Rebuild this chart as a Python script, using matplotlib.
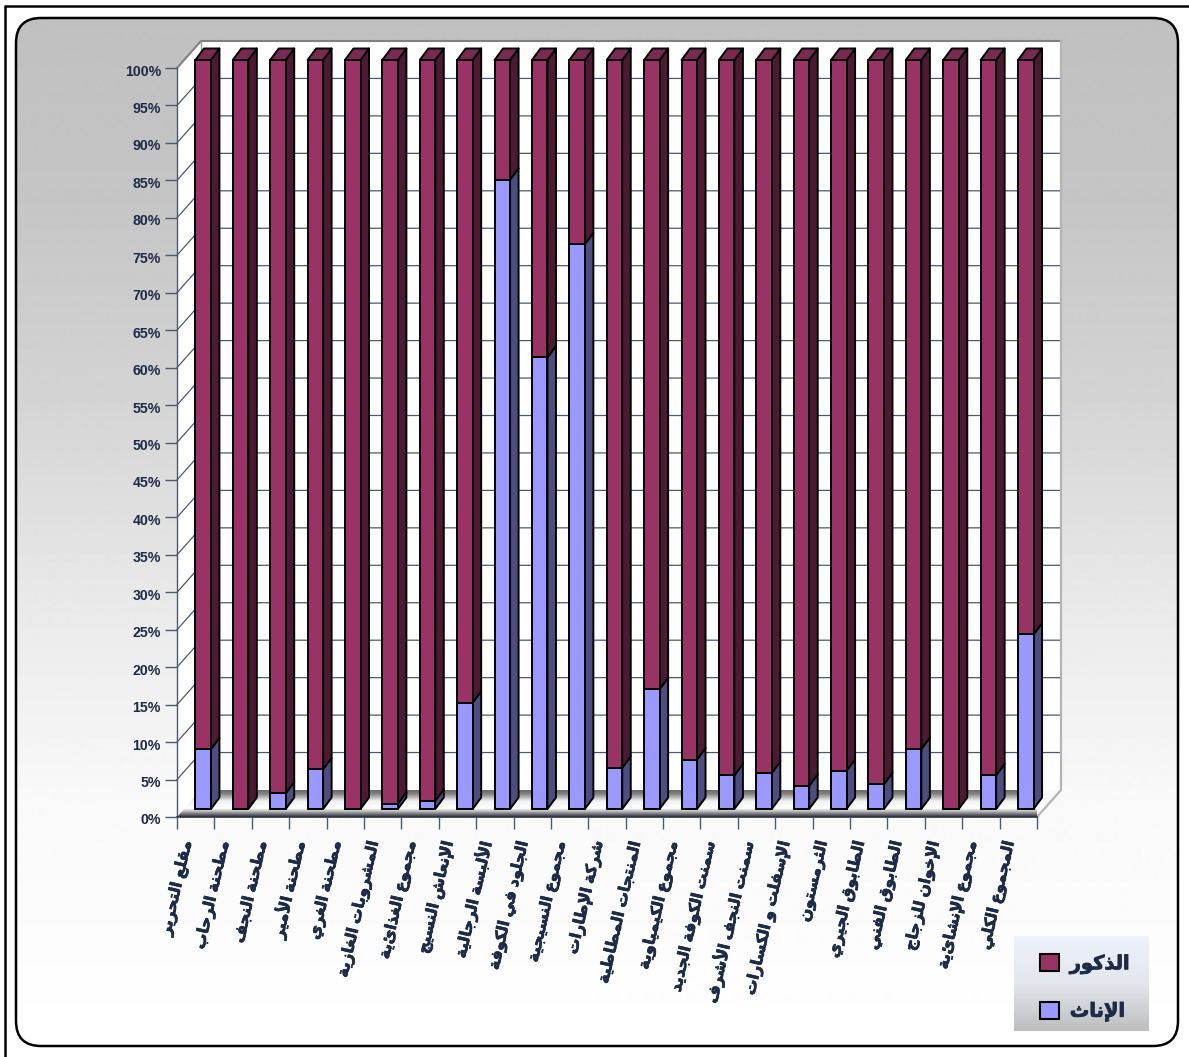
import numpy as np
import matplotlib
matplotlib.use('Agg')
import matplotlib.pyplot as plt
import matplotlib.patheffects as pe
from matplotlib.colors import LinearSegmentedColormap
from matplotlib.patches import FancyBboxPatch, Polygon, Rectangle
from matplotlib.transforms import ScaledTranslation

W, H = 1189, 1057

labels = ['مقلع التحرير', 'مطحنة الرحاب', 'مطحنة النجف', 'مطحنة الأمير', 'مطحنة الغري',
          'المشروبات الغازية', 'مجموع الغذائية', 'الإنعاش النسيج', 'الألبسة الرجالية',
          'الجلود في الكوفة', 'مجموع النسيجية', 'شركة الإطارات', 'المنتجات المطاطية',
          'مجموع الكيمياوية', 'سمنت الكوفة الجديد', 'سمنت النجف الأشرف', 'الإسفلت و الكسارات',
          'الثرمستون', 'الطابوق الجيري', 'الطابوق الفني', 'الإخوان للزجاج',
          'مجموع الإنشائية', 'المجموع الكلي']
female = [8.0, 0, 2.1, 5.3, 0, 0.7, 1.1, 14.2, 84.0, 60.3, 75.4, 5.5, 16.0,
          6.6, 4.5, 4.8, 3.1, 5.1, 3.3, 8.0, 0, 4.5, 23.3]
male = [100 - v for v in female]
pct_ticks = list(range(0, 101, 5))
name_male = 'الذكور'
name_female = 'الإناث'

MAROON, MAROON_SIDE, MAROON_TOP = '#993366', '#4D1A33', '#7A2952'
BLUE, BLUE_SIDE = '#9999FF', '#4D4D80'
TEXT = '#1C2B47'
AXIS = '#4A5A70'

# letter -> (first presentation form, number of forms)
FORMS = {'ء': (0xFE80, 1), 'أ': (0xFE83, 2), 'إ': (0xFE87, 2), 'ا': (0xFE8D, 2), 'ب': (0xFE8F, 4),
         'ة': (0xFE93, 2), 'ت': (0xFE95, 4), 'ث': (0xFE99, 4), 'ج': (0xFE9D, 4), 'ح': (0xFEA1, 4),
         'خ': (0xFEA5, 4), 'د': (0xFEA9, 2), 'ذ': (0xFEAB, 2), 'ر': (0xFEAD, 2), 'ز': (0xFEAF, 2),
         'س': (0xFEB1, 4), 'ش': (0xFEB5, 4), 'ص': (0xFEB9, 4), 'ض': (0xFEBD, 4), 'ط': (0xFEC1, 4),
         'ظ': (0xFEC5, 4), 'ع': (0xFEC9, 4), 'غ': (0xFECD, 4), 'ف': (0xFED1, 4), 'ق': (0xFED5, 4),
         'ك': (0xFED9, 4), 'ل': (0xFEDD, 4), 'م': (0xFEE1, 4), 'ن': (0xFEE5, 4), 'ه': (0xFEE9, 4),
         'و': (0xFEED, 2), 'ى': (0xFEEF, 2), 'ي': (0xFEF1, 4)}
LAM_ALEF = {'ا': 0xFEFB, 'أ': 0xFEF7, 'إ': 0xFEF9}


def shape(text):
    # matplotlib has no Arabic shaping, so join the letters and lay them out visually
    out = []
    i = 0
    prev_joins = False
    while i < len(text):
        c = text[i]
        if c not in FORMS:
            out.append(c)
            prev_joins = False
            i += 1
            continue
        if c == 'ل' and i + 1 < len(text) and text[i + 1] in LAM_ALEF:
            out.append(chr(LAM_ALEF[text[i + 1]] + (1 if prev_joins else 0)))
            prev_joins = False
            i += 2
            continue
        start, n = FORMS[c]
        next_ok = i + 1 < len(text) and text[i + 1] in FORMS and text[i + 1] != 'ء'
        if n == 4:
            form = {(False, False): 0, (True, False): 1, (False, True): 2, (True, True): 3}[(prev_joins, next_ok)]
            prev_joins = next_ok
        elif n == 2:
            form = 1 if prev_joins else 0
            prev_joins = False
        else:
            form = 0
            prev_joins = False
        out.append(chr(start + form))
        i += 1
    return ''.join(out)[::-1]


plt.rcParams['font.family'] = ['Liberation Sans', 'DejaVu Sans']
fig = plt.figure(figsize=(W / 100, H / 100), dpi=100, facecolor='white')

# page background: border lines and the rounded gradient panel
bg = fig.add_axes([0, 0, 1, 1])
bg.set_xlim(0, W)
bg.set_ylim(H, 0)
bg.axis('off')
bg.plot([5, 5], [H, 6], color='black', lw=1.8, solid_capstyle='butt')
bg.plot([4, W], [6, 6], color='black', lw=1.8, solid_capstyle='butt')
stops_y = [18, 200, 400, 600, 800, 1046]
stops_v = [192, 197, 212, 233, 249, 255]
ys = np.arange(18, 1047)
grad = np.interp(ys, stops_y, stops_v)[:, None]
im = bg.imshow(grad, extent=(16, 1178, 1046, 18), cmap='gray', vmin=0, vmax=255, aspect='auto', zorder=1)
panel = FancyBboxPatch((16 + 25, 18 + 25), 1162 - 50, 1028 - 50, boxstyle='round,pad=25,rounding_size=25',
                       fc='none', ec='black', lw=1.8, zorder=2)
bg.add_patch(panel)
im.set_clip_path(panel)
bg.set_xlim(0, W)
bg.set_ylim(H, 0)

# legend box
cmap_leg = LinearSegmentedColormap.from_list('leg', ['#EEF2FC', '#E4E6EC', '#BEBEBE'])
bg.imshow(np.linspace(0, 1, 100)[:, None], extent=(1014, 1149, 1031, 936), cmap=cmap_leg, aspect='auto', zorder=3)
bg.set_xlim(0, W)
bg.set_ylim(H, 0)

# plot area
x0, x1, y_top, y_bot = 177, 1037, 68, 817
ax = fig.add_axes([x0 / W, 1 - y_bot / H, (x1 - x0) / W, (y_bot - y_top) / H])
ax.patch.set_alpha(0)
n = len(labels)
ax.set_xlim(0, n)
ax.set_ylim(0, 100)
px = n / (x1 - x0)
py = 100 / (y_bot - y_top)
back_x, back_y = 24 * px, 27 * py

# walls and floor
ax.add_patch(Polygon([(back_x, back_y), (n + back_x, back_y), (n + back_x, 100 + back_y), (back_x, 100 + back_y)],
                     fc='white', ec='none', zorder=1, clip_on=False))
ax.add_patch(Polygon([(0, 0), (back_x, back_y), (back_x, 100 + back_y), (0, 100)],
                     fc='white', ec='none', zorder=1, clip_on=False))
for p in pct_ticks[1:-1]:
    ax.plot([0, back_x, n + back_x], [p, p + back_y, p + back_y], color=AXIS, lw=0.9, zorder=2, clip_on=False)
ax.plot([0, back_x, n + back_x], [100, 100 + back_y, 100 + back_y], color='#808080', lw=1.5, zorder=2, clip_on=False)
ax.plot([n + back_x, n + back_x, n], [100 + back_y, back_y, 0], color='#B4B4B4', lw=1.6, zorder=2, clip_on=False)
ax.plot([back_x, back_x], [back_y, 100 + back_y], color='#9A9A9A', lw=1, zorder=2, clip_on=False)

floor_cmap = LinearSegmentedColormap.from_list('floor', [(0, '#6A6A6A'), (0.14, '#848484'), (0.4, '#F0F0F0'),
                                                          (0.68, '#FFFFFF'), (0.82, '#A8A8A8'), (1, '#2A2F3A')])
floor = Polygon([(0, 0), (back_x, back_y), (n + back_x, back_y), (n, 0)], fc='none', ec='none', zorder=3,
                clip_on=False)
ax.add_patch(floor)
fim = ax.imshow(np.linspace(0, 1, 60)[:, None], extent=(0, n + back_x, 0, back_y), cmap=floor_cmap, aspect='auto',
                zorder=3, origin='upper', clip_on=True)
fim.set_clip_path(floor)
ax.set_xlim(0, n)
ax.set_ylim(0, 100)

# bars with their depth faces
centers = np.arange(n) + 0.5
shift_x, shift_y = 7.5 * px, 8 * py
bar_w = 15.5 * px
dep_x, dep_y = 8.5 * px, 11.5 * py
edge = dict(ec='black', lw=1.4, joinstyle='round', clip_on=False)
for c, f, m in zip(centers, female, male):
    left = c + shift_x - bar_w / 2
    right = left + bar_w
    if f > 0:
        ax.add_patch(Polygon([(right, shift_y), (right + dep_x, shift_y + dep_y),
                              (right + dep_x, shift_y + f + dep_y), (right, shift_y + f)],
                             fc=BLUE_SIDE, zorder=5, **edge))
    ax.add_patch(Polygon([(right, shift_y + f), (right + dep_x, shift_y + f + dep_y),
                          (right + dep_x, shift_y + f + m + dep_y), (right, shift_y + f + m)],
                         fc=MAROON_SIDE, zorder=5, **edge))
    ax.add_patch(Polygon([(left, shift_y + f + m), (right, shift_y + f + m),
                          (right + dep_x, shift_y + f + m + dep_y), (left + dep_x, shift_y + f + m + dep_y)],
                         fc=MAROON_TOP, zorder=5, **edge))
ax.bar(centers + shift_x, female, bar_w, bottom=shift_y, color=BLUE, edgecolor='black', lw=1.4, zorder=6, clip_on=False)
ax.bar(centers + shift_x, male, bar_w, bottom=[shift_y + f for f in female], color=MAROON, edgecolor='black', lw=1.4,
       zorder=6, clip_on=False)

# axes, ticks and labels
for side in ['top', 'right']:
    ax.spines[side].set_visible(False)
ax.spines['left'].set_color(AXIS)
ax.spines['left'].set_linewidth(1)
ax.spines['bottom'].set_color('#2A303C')
ax.spines['bottom'].set_linewidth(1.2)
ax.set_axisbelow(False)
ax.set_yticks(pct_ticks, [f'{p}%' for p in pct_ticks], fontsize=10.2, fontweight='bold', color=TEXT)
ax.tick_params(axis='y', length=8.6, width=1, color=AXIS, pad=3)
for t in ax.get_yticklabels():
    t.set_transform(t.get_transform() + ScaledTranslation(0, -2 / 100, fig.dpi_scale_trans))
ax.set_xticks(np.arange(n + 1), [''] * (n + 1))
ax.tick_params(axis='x', which='major', length=8.6, width=1, color=AXIS)
ax.set_xticks(centers - 8 * px, [shape(s) for s in labels], minor=True, rotation=77, ha='right', va='center',
              rotation_mode='anchor', fontsize=11.3, fontweight='bold', color=TEXT,
              path_effects=[pe.withStroke(linewidth=0.5, foreground=TEXT)])
ax.tick_params(axis='x', which='minor', length=0, pad=17)

# legend
h_male = Rectangle((0, 0), 1, 1, fc=MAROON, ec='black', lw=1.5)
h_female = Rectangle((0, 0), 1, 1, fc=BLUE, ec='black', lw=1.5)
leg = bg.legend([h_male, h_female], [shape(name_male), shape(name_female)], frameon=False, loc='center',
                bbox_to_anchor=(1085 / W, 1 - 987.5 / H), prop={'weight': 'bold', 'size': 14}, labelcolor=TEXT,
                handlelength=0.98, handleheight=0.98, handletextpad=0.55, labelspacing=1.4)
leg.set_zorder(4)
for t in leg.get_texts():
    t.set_path_effects([pe.withStroke(linewidth=0.6, foreground=TEXT)])

fig.savefig('out.png', dpi=100)
